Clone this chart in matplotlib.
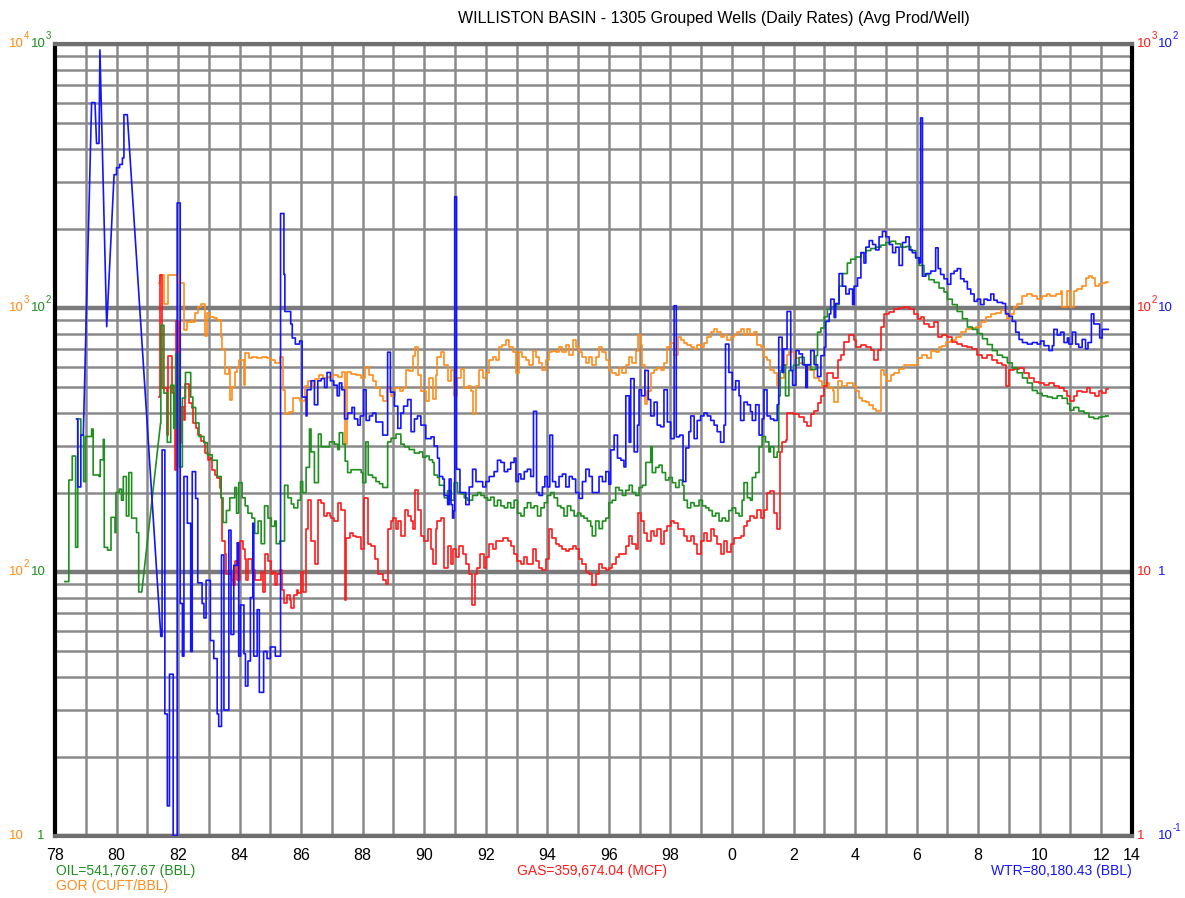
import numpy as np
import matplotlib
matplotlib.use("Agg")
import matplotlib.pyplot as plt
import matplotlib.transforms as mtransforms

plt.rcParams['font.family'] = ['Liberation Sans', 'DejaVu Sans']

TITLE = "WILLISTON BASIN - 1305 Grouped Wells (Daily Rates) (Avg Prod/Well)"

# (years since 1900, average daily rate per well) - monthly steps
OIL = [
    (78.32, 9.2), (78.45, 22.3), (78.56, 27.5), (78.67, 12.4), (78.74, 38), (78.84, 33), (78.93, 22), (78.99, 32.6),
    (79.19, 34.8), (79.24, 23.3), (79.43, 23), (79.47, 26.6), (79.57, 31.8), (79.60, 12.4), (79.71, 12.1),
    (79.82, 16.1), (79.95, 14.1), (79.98, 20), (80.09, 20.6), (80.16, 18.7), (80.22, 23), (80.32, 16.3),
    (80.40, 23.8), (80.49, 16), (80.65, 14.1), (80.72, 8.4), (80.82, 8.4),
    (81.43, 36.7), (81.44, 86), (81.54, 47.6), (81.65, 31), (81.76, 51), (81.86, 35), (81.92, 67),
    (82.03, 25), (82.14, 45.6), (82.24, 57), (82.41, 46), (82.48, 42), (82.57, 36.7), (82.68, 32.6),
    (82.84, 30.9), (82.95, 27.8), (83.11, 26.5), (83.27, 23), (83.40, 19.1), (83.46, 15.4), (83.57, 17.1),
    (83.68, 19.1), (83.84, 20.9), (83.90, 16.7), (83.97, 21.8), (84.08, 19.1), (84.18, 17.8), (84.27, 16.7),
    (84.40, 16.0), (84.49, 14.0), (84.60, 15.6), (84.70, 12.8), (84.81, 17.8), (84.92, 16.0), (85.03, 14.9),
    (85.14, 15.6), (85.19, 12.8), (85.30, 13.1), (85.46, 21.3), (85.57, 19.1), (85.68, 18.1), (85.76, 17.5),
    (85.89, 18.7), (85.98, 22), (86.05, 20), (86.16, 24.9), (86.27, 34.8), (86.32, 28.5), (86.43, 21.8),
    (86.56, 33.3), (86.65, 29.8), (86.92, 31.1), (87.08, 30.5), (87.19, 29.1), (87.24, 33.7), (87.35, 30.5),
    (87.43, 26.3), (87.51, 23.8), (87.62, 24.4), (87.95, 23.8), (88.00, 21.8), (88.10, 31.1), (88.18, 23.3),
    (88.32, 22.8), (88.43, 22), (88.54, 21.6), (88.65, 20.9), (88.81, 31.1), (88.92, 32.1), (89.08, 33.3),
    (89.24, 30.5), (89.35, 29.8), (89.51, 29.1), (89.68, 28.2), (89.84, 28.5), (89.95, 27.2),
    (90.05, 27.5), (90.16, 26.6), (90.27, 26), (90.32, 23.3), (90.43, 22.8), (90.49, 21.3), (90.65, 19.1),
    (90.76, 20.3), (90.87, 18.7), (90.97, 21.8), (91.08, 20), (91.19, 19.8), (91.30, 19.1), (91.41, 18.7),
    (91.57, 19.5), (91.73, 20), (91.84, 19.5), (91.95, 19.1), (92.06, 18.7), (92.16, 19.2), (92.27, 17.8),
    (92.38, 18.7), (92.49, 17.8), (92.60, 17.5), (92.71, 18.3), (92.81, 17.5), (92.92, 18.7), (93.03, 16.7),
    (93.14, 16.3), (93.25, 17.5), (93.35, 18.3), (93.46, 17.5), (93.57, 17.8), (93.68, 16.3), (93.79, 17.5),
    (93.90, 18.3), (94.00, 19.5), (94.11, 20), (94.22, 19.1), (94.33, 17.8), (94.44, 17.5), (94.54, 16.3),
    (94.65, 17.8), (94.76, 17.1), (94.87, 16.3), (94.98, 16.7), (95.09, 16.3), (95.19, 16.0), (95.30, 15.6),
    (95.41, 14.9), (95.46, 13.7), (95.57, 15.6), (95.68, 14.6), (95.79, 15.6), (95.90, 16), (96.00, 18.3),
    (96.11, 18.7), (96.22, 20.9), (96.33, 20.4), (96.44, 19.5), (96.55, 20.4), (96.66, 21.3), (96.76, 20),
    (96.87, 19.5), (96.98, 20.9), (97.09, 21.3), (97.20, 26), (97.36, 29.8), (97.41, 23.8), (97.52, 24.9),
    (97.63, 25.4), (97.73, 23.8), (97.84, 22.3), (97.95, 22.8), (98.06, 21.8), (98.17, 20.9), (98.28, 22.3),
    (98.39, 21.3), (98.44, 18.7), (98.55, 17.5), (98.66, 18.3), (98.77, 17.8), (98.93, 18.7), (99.04, 17.8),
    (99.15, 17.5), (99.25, 17.1), (99.36, 16.3), (99.47, 16.7), (99.58, 15.6), (99.68, 16.0), (99.79, 15.6),
    (99.90, 17.1), (100.01, 17.5), (100.12, 16.7), (100.23, 16.3), (100.33, 18.7), (100.39, 21.8),
    (100.50, 19.1), (100.60, 18.7), (100.66, 22.8), (100.77, 23.8), (100.88, 29.8), (100.98, 32.6),
    (101.09, 31.1), (101.20, 28.5), (101.25, 29.8), (101.36, 27.2), (101.47, 28.5), (101.52, 46.5),
    (101.57, 58), (101.63, 60.8), (101.74, 46.5), (101.85, 58), (102.00, 60.8), (102.18, 65), (102.35, 60.8),
    (102.56, 58.5), (102.73, 66), (102.78, 81), (102.89, 84), (103.00, 92.6), (103.10, 99), (103.21, 101),
    (103.37, 103), (103.48, 121), (103.59, 135), (103.75, 148), (103.86, 153), (104.02, 156), (104.19, 162),
    (104.35, 165), (104.51, 168), (104.67, 170), (104.84, 173), (105.00, 177), (105.16, 179), (105.32, 175),
    (105.48, 170), (105.65, 171), (105.81, 165), (105.97, 155), (106.08, 145), (106.24, 134), (106.40, 128),
    (106.57, 125), (106.73, 119), (106.89, 115), (107.00, 108), (107.16, 103), (107.32, 97), (107.49, 91),
    (107.65, 84.7), (107.81, 83), (107.97, 80), (108.14, 76.5), (108.30, 72.7), (108.46, 69), (108.62, 66.3),
    (108.79, 65), (108.95, 62), (109.11, 59.3), (109.27, 56.8), (109.44, 54.3), (109.60, 52), (109.76, 48.7),
    (109.92, 47.5), (110.08, 46.5), (110.25, 46), (110.41, 45.5), (110.57, 46.5), (110.73, 45.5),
    (110.90, 43.4), (110.98, 41), (111.11, 42), (111.27, 40.7), (111.44, 40), (111.60, 38.6), (111.76, 38.1),
    (111.92, 38.6), (112.03, 38.8), (112.14, 39),
]
OIL_LINKS = [80.82]

GAS = [
    (81.38, 46), (81.41, 133), (81.49, 49.8), (81.65, 33), (81.68, 66), (81.81, 47.6), (81.90, 24.3),
    (81.92, 89), (82.03, 30.8), (82.11, 42), (82.19, 37.6), (82.24, 51.5), (82.35, 43.6), (82.44, 41.8),
    (82.49, 36.7), (82.57, 35), (82.65, 33), (82.76, 31.4), (82.84, 31), (82.89, 28.3), (82.98, 26.5),
    (83.05, 27), (83.11, 24.3), (83.19, 23.3), (83.27, 22.7), (83.35, 20.8), (83.41, 19.1), (83.44, 13.1),
    (83.52, 11.7), (83.57, 9.8), (83.74, 9.3), (83.79, 8.95), (83.84, 11), (83.93, 9.3), (84.01, 13.1),
    (84.11, 12.2), (84.17, 11.2), (84.22, 9.3), (84.26, 11.2), (84.39, 10.2), (84.49, 9.3), (84.69, 10),
    (84.76, 8.4), (84.84, 11.7), (84.93, 11), (85.01, 9.8), (85.09, 10), (85.16, 8.95), (85.23, 9.8),
    (85.31, 10.2), (85.39, 8.55), (85.45, 7.65), (85.55, 8.2), (85.63, 7.8), (85.68, 7.3), (85.77, 8.2),
    (85.85, 8.55), (85.90, 8.3), (85.99, 10), (86.06, 8.4), (86.17, 14.6), (86.23, 18.7), (86.33, 13.1),
    (86.44, 10.7), (86.55, 18.7), (86.66, 18.3), (86.74, 16.3), (86.85, 16.7), (86.93, 16.3), (86.98, 16),
    (87.07, 15.6), (87.20, 18.3), (87.29, 17.1), (87.42, 7.8), (87.47, 13.4), (87.58, 14), (87.69, 13.7),
    (87.79, 13.6), (87.96, 12.2), (88.04, 19.1), (88.17, 12.8), (88.28, 12.5), (88.39, 11.2), (88.50, 9.8),
    (88.66, 9.3), (88.77, 9.0), (88.82, 14.6), (88.93, 15.6), (88.98, 16), (89.09, 14.6), (89.15, 15.6),
    (89.26, 13.7), (89.36, 17.1), (89.47, 16.3), (89.56, 15.6), (89.63, 14.6), (89.69, 20.4), (89.80, 17.1),
    (89.90, 13.7), (90.00, 13.1), (90.11, 14.6), (90.22, 12.2), (90.27, 10.7), (90.38, 14.6), (90.43, 15.6),
    (90.54, 16), (90.65, 10.4), (90.76, 12.5), (90.87, 10.7), (90.92, 12.2), (91.03, 11.4), (91.14, 12.5),
    (91.25, 11.7), (91.35, 10.7), (91.46, 9.8), (91.55, 7.5), (91.66, 9.8), (91.73, 10.4), (91.82, 11.7),
    (91.93, 10.4), (92.00, 11.4), (92.11, 12.8), (92.22, 12.2), (92.33, 13.1), (92.55, 13.4), (92.71, 13.1),
    (92.81, 12.5), (92.92, 11.7), (93.03, 11), (93.14, 10.7), (93.25, 11.4), (93.35, 10.7), (93.52, 12.2),
    (93.63, 11), (93.73, 10.4), (93.84, 10.2), (93.95, 11.2), (94.05, 14.6), (94.16, 13.4), (94.27, 12.8),
    (94.38, 12.5), (94.49, 12.2), (94.60, 12), (94.71, 12.2), (94.82, 12.5), (94.92, 12.2), (95.03, 11.2),
    (95.14, 10.7), (95.25, 10), (95.36, 9.8), (95.46, 8.95), (95.57, 9.8), (95.68, 10.7), (95.79, 10.4),
    (95.90, 10.2), (96.00, 10.4), (96.11, 10.7), (96.22, 11.4), (96.33, 11.7), (96.55, 12.5), (96.66, 13.7),
    (96.76, 12.8), (96.87, 12.2), (96.95, 16.7), (97.03, 15.6), (97.14, 14), (97.25, 13.1), (97.36, 14.3),
    (97.47, 13.7), (97.57, 14.6), (97.68, 12.8), (97.79, 14.3), (97.90, 14.9), (98.01, 15.6), (98.12, 15.3),
    (98.23, 14.6), (98.44, 13.7), (98.55, 13.1), (98.66, 13.7), (98.77, 12.8), (98.87, 11.7), (98.98, 13.1),
    (99.09, 14), (99.20, 13.1), (99.31, 14.6), (99.42, 13.7), (99.52, 12.8), (99.63, 11.7), (99.74, 13.1),
    (99.85, 11.9), (99.96, 12.8), (100.06, 13.4), (100.17, 13.5), (100.28, 13.7), (100.39, 14.9),
    (100.50, 15.6), (100.60, 16.3), (100.71, 16), (100.82, 17.1), (100.93, 16), (101.04, 17.1),
    (101.14, 19.9), (101.25, 20.2), (101.36, 16.7), (101.47, 14.6), (101.55, 28.4), (101.63, 31),
    (101.74, 31.5), (101.80, 40), (101.97, 39.5), (102.18, 38.5), (102.35, 36.9), (102.45, 35.6),
    (102.56, 39.5), (102.67, 40.7), (102.78, 43.5), (102.89, 46.5), (103.00, 50.8), (103.10, 56.8),
    (103.27, 54.3), (103.43, 63.5), (103.54, 66.4), (103.65, 74.2), (103.81, 79.3), (103.97, 75.9),
    (104.02, 71), (104.19, 72.7), (104.35, 71), (104.51, 69.5), (104.62, 63.5), (104.73, 69.5),
    (104.84, 84.8), (104.94, 94.8), (105.11, 96.9), (105.27, 99), (105.43, 100), (105.59, 101),
    (105.76, 99), (105.92, 94.8), (106.03, 90.6), (106.13, 92.6), (106.24, 86.7), (106.40, 84.8),
    (106.57, 88.6), (106.68, 77.6), (106.84, 79.3), (107.00, 77.6), (107.16, 74.2), (107.32, 73.3),
    (107.49, 71.9), (107.65, 71), (107.81, 70), (107.97, 66.4), (108.14, 64.9), (108.30, 66.4),
    (108.46, 63.5), (108.62, 62.1), (108.79, 60.7), (108.90, 50.8), (109.00, 58.1), (109.16, 58.5),
    (109.33, 59.4), (109.49, 56.8), (109.65, 54.3), (109.81, 52.6), (109.98, 51.9), (110.14, 51.2),
    (110.30, 51.9), (110.46, 50.8), (110.63, 49.7), (110.79, 48.6), (110.90, 46.5), (111.00, 44.5),
    (111.11, 46.5), (111.22, 48.6), (111.38, 48.2), (111.54, 49.7), (111.65, 47.6), (111.81, 46.5),
    (111.92, 48.6), (112.03, 47.6), (112.14, 49.2),
]
GAS_LINKS = []

GOR = [
    (81.38, 1240), (81.41, 1330), (81.54, 1040), (81.68, 1330), (82.03, 1240), (82.19, 826), (82.30, 886),
    (82.41, 900), (82.46, 886), (82.54, 957), (82.65, 1010), (82.76, 1040), (82.87, 780), (82.95, 960),
    (83.05, 925), (83.16, 916), (83.27, 900), (83.38, 776), (83.43, 697), (83.54, 560), (83.65, 600),
    (83.70, 449), (83.76, 500), (83.86, 570), (83.92, 600), (83.97, 635), (84.14, 510), (84.19, 675),
    (84.30, 645), (84.41, 650), (84.57, 648), (84.73, 655), (84.89, 645), (85.00, 635), (85.16, 620),
    (85.30, 650), (85.42, 490), (85.48, 398), (85.62, 403), (85.75, 455), (85.95, 444), (86.12, 508),
    (86.23, 528), (86.36, 500), (86.46, 537), (86.57, 556), (86.71, 545), (86.87, 550), (87.03, 556),
    (87.20, 550), (87.33, 570), (87.42, 305), (87.48, 570), (87.63, 563), (87.79, 556), (87.94, 545),
    (88.06, 600), (88.19, 556), (88.34, 530), (88.44, 497), (88.55, 465), (88.66, 444), (88.80, 497),
    (88.93, 465), (89.06, 497), (89.20, 486), (89.31, 497), (89.42, 580), (89.52, 575), (89.63, 660),
    (89.71, 710), (89.80, 556), (89.90, 486), (90.05, 444), (90.16, 545), (90.27, 454), (90.38, 556),
    (90.43, 650), (90.54, 680), (90.65, 610), (90.76, 530), (90.87, 580), (90.97, 465), (91.08, 545),
    (91.19, 585), (91.30, 498), (91.41, 508), (91.52, 486), (91.57, 398), (91.68, 508), (91.79, 580),
    (91.90, 545), (92.00, 568), (92.11, 634), (92.22, 650), (92.33, 634), (92.44, 710), (92.54, 727),
    (92.65, 755), (92.76, 710), (92.87, 680), (92.98, 568), (93.08, 680), (93.19, 650), (93.30, 634),
    (93.41, 610), (93.52, 690), (93.63, 650), (93.73, 620), (93.84, 580), (93.95, 634), (94.05, 680),
    (94.16, 690), (94.27, 680), (94.38, 710), (94.49, 680), (94.60, 727), (94.71, 665), (94.82, 755),
    (94.92, 710), (95.03, 680), (95.14, 650), (95.25, 620), (95.36, 650), (95.46, 610), (95.57, 650),
    (95.68, 710), (95.79, 680), (95.90, 634), (96.00, 580), (96.11, 568), (96.22, 556), (96.33, 595),
    (96.44, 568), (96.55, 610), (96.66, 650), (96.76, 620), (96.87, 690), (96.93, 790), (97.03, 727),
    (97.09, 610), (97.17, 434), (97.25, 486), (97.36, 568), (97.47, 580), (97.57, 595), (97.68, 580),
    (97.79, 620), (97.90, 710), (98.01, 740), (98.12, 665), (98.23, 775), (98.33, 755), (98.44, 740),
    (98.55, 727), (98.66, 710), (98.77, 697), (98.87, 727), (98.98, 710), (99.09, 740), (99.20, 775),
    (99.31, 810), (99.42, 830), (99.52, 810), (99.63, 775), (99.74, 790), (99.85, 755), (99.96, 775),
    (100.06, 790), (100.17, 810), (100.28, 830), (100.39, 790), (100.50, 830), (100.60, 790), (100.71, 810),
    (100.82, 727), (100.93, 710), (101.04, 650), (101.14, 634), (101.25, 580), (101.36, 568), (101.47, 508),
    (101.57, 545), (101.68, 610), (101.79, 664), (101.86, 679), (102.02, 649), (102.18, 621), (102.35, 607),
    (102.51, 581), (102.67, 543), (102.83, 531), (102.94, 508), (103.05, 519), (103.16, 497), (103.27, 486),
    (103.32, 441), (103.43, 531), (103.59, 508), (103.75, 519), (103.92, 508), (104.02, 486), (104.13, 455),
    (104.24, 445), (104.35, 441), (104.46, 429), (104.57, 416), (104.67, 407), (104.84, 581), (104.94, 556),
    (105.05, 531), (105.16, 556), (105.27, 568), (105.43, 586), (105.59, 607), (106.03, 649), (106.19, 664),
    (106.35, 649), (106.46, 688), (106.62, 679), (106.73, 710), (106.84, 720), (106.95, 742), (107.11, 759),
    (107.27, 776), (107.43, 812), (107.60, 831), (107.76, 838), (107.92, 848), (108.08, 887), (108.25, 927),
    (108.41, 948), (108.57, 957), (108.73, 983), (108.89, 969), (108.93, 906), (109.00, 948), (109.16, 1010),
    (109.27, 1035), (109.44, 1109), (109.60, 1130), (109.76, 1109), (109.92, 1086), (110.08, 1109),
    (110.25, 1130), (110.35, 1109), (110.52, 1130), (110.68, 1157), (110.73, 1010), (110.90, 1157),
    (111.00, 1010), (111.11, 1157), (111.22, 1180), (111.38, 1210), (111.49, 1298), (111.60, 1327),
    (111.71, 1298), (111.81, 1210), (111.92, 1236), (112.03, 1247), (112.14, 1260),
]
GOR_LINKS = []

WTR = [
    (78.70, 3.8), (78.74, 2.1), (78.84, 3.3), (78.92, 3.3), (79.19, 60), (79.30, 60), (79.35, 42),
    (79.43, 42), (79.46, 95), (79.68, 8.5), (79.92, 32), (80.00, 34), (80.10, 35), (80.19, 37),
    (80.24, 54), (80.35, 54), (81.44, 0.57), (81.48, 2.9), (81.57, 0.29), (81.65, 0.13), (81.72, 0.41),
    (81.84, 0.10), (81.97, 25), (82.07, 0.76), (82.14, 0.48), (82.19, 2.3), (82.30, 1.53), (82.41, 0.50),
    (82.46, 2.4), (82.57, 1.9), (82.64, 0.91), (82.78, 0.76), (82.84, 0.67), (82.91, 0.93), (83.05, 0.55),
    (83.16, 0.47), (83.27, 0.29), (83.32, 0.26), (83.41, 1.16), (83.49, 0.30), (83.65, 1.44), (83.72, 0.58),
    (83.81, 1.06), (83.92, 1.29), (83.97, 0.48), (84.03, 0.75), (84.14, 0.49), (84.19, 0.37), (84.27, 0.46),
    (84.35, 0.80), (84.43, 1.53), (84.46, 0.48), (84.57, 0.72), (84.64, 0.35), (84.78, 0.50), (84.89, 0.47),
    (85.00, 0.52), (85.16, 0.48), (85.33, 22.8), (85.44, 13.4), (85.47, 9.7), (85.66, 8.7), (85.71, 7.7),
    (85.81, 7.3), (85.95, 7.5), (86.03, 4.6), (86.16, 3.9), (86.19, 4.9), (86.32, 5.3), (86.43, 4.3),
    (86.54, 5.3), (86.65, 5.4), (86.76, 5.0), (86.84, 5.7), (86.95, 5.3), (87.06, 5.1), (87.17, 4.65),
    (87.24, 5.2), (87.32, 4.9), (87.41, 3.8), (87.51, 4.0), (87.65, 4.2), (87.73, 3.8), (87.84, 3.6),
    (87.92, 3.9), (88.03, 4.9), (88.11, 3.75), (88.22, 3.9), (88.32, 4.0), (88.43, 3.7), (88.65, 3.3),
    (88.81, 6.8), (88.90, 4.8), (89.03, 4.25), (89.14, 3.5), (89.24, 4.0), (89.33, 4.25), (89.46, 4.5),
    (89.57, 3.4), (89.68, 3.8), (89.78, 3.9), (89.89, 3.6), (90.05, 3.2), (90.22, 3.25), (90.32, 3.0),
    (90.43, 2.7), (90.49, 2.3), (90.60, 2.25), (90.65, 1.95), (90.76, 1.8), (90.81, 2.25), (90.87, 1.8),
    (90.92, 1.6), (90.96, 1.7), (90.99, 26.4), (91.05, 2.45), (91.16, 2.0), (91.35, 1.8), (91.46, 2.1),
    (91.57, 2.45), (91.68, 2.2), (91.90, 2.1), (92.00, 2.2), (92.11, 2.3), (92.27, 2.4), (92.38, 2.65),
    (92.49, 2.6), (92.60, 2.4), (92.71, 2.45), (92.81, 2.6), (92.92, 2.7), (92.98, 2.2), (93.06, 2.35),
    (93.14, 2.25), (93.25, 2.4), (93.35, 2.45), (93.46, 2.3), (93.55, 4.06), (93.65, 2.0), (93.73, 1.95),
    (93.84, 2.1), (93.92, 2.3), (94.00, 2.1), (94.08, 3.3), (94.17, 2.2), (94.27, 2.1), (94.38, 2.3),
    (94.49, 2.35), (94.60, 2.1), (94.71, 2.3), (94.81, 2.25), (94.92, 2.0), (95.03, 1.9), (95.14, 2.2),
    (95.25, 2.45), (95.36, 2.3), (95.46, 2.0), (95.68, 2.3), (95.79, 2.2), (95.90, 2.4), (96.00, 2.15),
    (96.06, 2.9), (96.17, 3.3), (96.28, 2.7), (96.39, 2.65), (96.49, 2.5), (96.55, 4.65), (96.66, 3.1),
    (96.71, 5.4), (96.82, 2.85), (96.93, 3.6), (96.98, 4.9), (97.06, 4.65), (97.17, 5.8), (97.28, 4.5),
    (97.36, 3.9), (97.47, 4.4), (97.57, 3.6), (97.68, 3.55), (97.79, 4.9), (97.90, 3.7), (98.01, 3.2),
    (98.12, 10.2), (98.19, 3.25), (98.30, 3.3), (98.41, 2.2), (98.50, 2.95), (98.60, 3.4), (98.66, 3.9),
    (98.77, 3.2), (98.87, 3.75), (98.98, 3.9), (99.09, 4.0), (99.20, 3.9), (99.31, 3.75), (99.42, 3.6),
    (99.52, 3.4), (99.63, 3.1), (99.74, 3.6), (99.79, 7.3), (99.90, 5.7), (100.01, 4.9), (100.12, 5.3),
    (100.23, 4.65), (100.28, 3.75), (100.39, 4.4), (100.50, 4.3), (100.60, 4.05), (100.66, 3.75),
    (100.77, 4.3), (100.88, 3.3), (100.98, 3.8), (101.04, 4.9), (101.14, 3.9), (101.25, 3.8), (101.36, 3.75),
    (101.47, 4.3), (101.52, 7.75), (101.63, 5.7), (101.68, 7.0), (101.79, 9.7), (101.91, 5.8), (101.97, 5.1),
    (102.08, 6.9), (102.18, 6.7), (102.29, 6.1), (102.40, 5.0), (102.45, 6.1), (102.56, 6.9), (102.67, 6.1),
    (102.78, 5.5), (102.89, 6.6), (103.00, 7.1), (103.05, 8.9), (103.16, 9.5), (103.21, 10.8), (103.32, 9.2),
    (103.37, 10.4), (103.48, 13.5), (103.59, 12.1), (103.70, 11.3), (103.81, 11.8), (103.92, 10.3),
    (103.97, 12.1), (104.08, 13.0), (104.19, 16.2), (104.29, 14.8), (104.35, 17), (104.46, 18), (104.57, 17.4),
    (104.67, 16.6), (104.78, 18.6), (104.89, 19.5), (105.00, 18.6), (105.11, 17.4), (105.22, 16.2),
    (105.32, 17), (105.43, 14.5), (105.54, 17.7), (105.65, 18.6), (105.76, 16.6), (105.86, 16.2),
    (105.97, 15.5), (106.08, 14.8), (106.13, 52.5), (106.19, 13.2), (106.30, 13.5), (106.46, 13.8),
    (106.62, 16.9), (106.70, 14.1), (106.78, 13.4), (106.89, 12.9), (107.00, 12.3), (107.11, 13.5),
    (107.22, 13.8), (107.32, 14.1), (107.43, 12.9), (107.54, 12.6), (107.65, 11.8), (107.76, 11.3),
    (107.87, 10.6), (107.97, 10.8), (108.08, 10.3), (108.19, 10.8), (108.30, 10.7), (108.41, 11.3),
    (108.51, 10.7), (108.62, 10.5), (108.79, 10.4), (108.89, 9.5), (109.00, 9.3), (109.11, 8.9), (109.22, 8.1),
    (109.33, 7.6), (109.44, 7.4), (109.60, 7.3), (109.76, 7.4), (109.92, 7.3), (110.03, 7.5), (110.14, 7.2),
    (110.30, 6.9), (110.41, 7.2), (110.46, 8.3), (110.57, 7.9), (110.68, 8.1), (110.79, 7.4), (110.90, 7.7),
    (110.95, 7.3), (111.06, 8.1), (111.17, 7.3), (111.27, 7.1), (111.38, 7.6), (111.49, 7.0), (111.57, 7.4),
    (111.68, 9.5), (111.76, 8.7), (111.87, 8.7), (111.95, 7.7), (112.03, 8.3), (112.14, 8.3),
]
# months with no data are bridged by a straight line instead of a step
WTR_LINKS = [78.92, 79.30, 79.43, 79.46, 79.68, 80.35]

OIL_TOTAL = "OIL=541,767.67 (BBL)"
GAS_TOTAL = "GAS=359,674.04 (MCF)"
WTR_TOTAL = "WTR=80,180.43 (BBL)"
GOR_NOTE = "GOR (CUFT/BBL)"

C_OIL, C_GAS, C_WTR, C_GOR = '#1f8f1f', '#ff1a1a', '#1414ff', '#ff8c1a'
GRID = '#8a8a8a'
LBL_SIZE = 9.5
EXP_SIZE = 7


def step_xy(pairs, links):
    t = [p[0] for p in pairs]
    v = [p[1] for p in pairs]
    xs, ys = [t[0]], [v[0]]
    for i in range(len(t) - 1):
        if t[i] in links:
            xs.append(t[i + 1]); ys.append(v[i + 1])
        else:
            xs += [t[i + 1], t[i + 1]]; ys += [v[i], v[i + 1]]
    xs.append(t[-1] + 1 / 12); ys.append(v[-1])
    return 1900 + np.array(xs), np.array(ys)


def decade_label(tw, xpos, p, color):
    # "10" with a small raised exponent, like the original plot software draws it
    tr = mtransforms.blended_transform_factory(fig.transFigure, tw.transData)
    y = 10.0 ** p
    if p == 0:
        tw.text(xpos, y, '1', transform=tr, color=color, ha='left', va='center',
                fontsize=LBL_SIZE, clip_on=False)
        return
    tw.text(xpos, y, '10', transform=tr, color=color, ha='left', va='center',
            fontsize=LBL_SIZE, clip_on=False)
    if p != 1:
        etr = mtransforms.offset_copy(tr, fig=fig, x=1.112 * LBL_SIZE, y=5.5, units='points')
        tw.text(xpos, y, str(p), transform=etr, color=color, ha='left', va='center',
                fontsize=EXP_SIZE, clip_on=False)


fig = plt.figure(figsize=(11.85, 8.98), dpi=100)
ax = fig.add_axes([55 / 1185, 1 - 836 / 898, (1132 - 55) / 1185, (836 - 44) / 898])

ax.set_xlim(1978, 2013)
ax.set_yscale('log')
ax.set_ylim(1, 1000)
years = np.arange(1978, 2014)
ax.set_xticks(years)
xlabels = [str(y % 100) if y % 2 == 0 else '' for y in years]
xlabels[-1] = '14'
ax.set_xticklabels(xlabels)
ax.tick_params(axis='x', length=0, pad=9, labelsize=11.5)
ax.tick_params(axis='y', which='both', length=0, labelleft=False)
ax.grid(True, axis='x', color=GRID, lw=1.8)
ax.grid(True, axis='y', which='major', color='#7a7a7a', lw=3.2)
ax.grid(True, axis='y', which='minor', color=GRID, lw=1.8)
ax.set_axisbelow(True)
for side in ('left', 'right'):
    ax.spines[side].set_color('black')
    ax.spines[side].set_linewidth(3)
for side in ('top', 'bottom'):
    ax.spines[side].set_color('#6e6e6e')
    ax.spines[side].set_linewidth(3)

series = [
    (GOR, GOR_LINKS, C_GOR, (10, 1e4)),
    (GAS, GAS_LINKS, C_GAS, (1, 1000)),
    (OIL, OIL_LINKS, C_OIL, (1, 1000)),
    (WTR, WTR_LINKS, C_WTR, (0.1, 100)),
]
twins = []
for pairs, links, color, lim in series:
    tw = ax.twinx()
    tw.set_yscale('log')
    tw.set_ylim(*lim)
    tw.tick_params(axis='y', which='both', length=0, labelright=False)
    for s in tw.spines.values():
        s.set_visible(False)
    x, y = step_xy(pairs, links)
    tw.plot(x, y, color=color, lw=1.2)
    twins.append(tw)
tw_gor, tw_gas, tw_oil, tw_wtr = twins

# scale labels at each decade line
for tw, color, xpos, lo in [
    (tw_gor, C_GOR, 9 / 1185, 1),
    (tw_oil, C_OIL, 31 / 1185, 0),
    (tw_gas, C_GAS, 1137 / 1185, 0),
    (tw_wtr, C_WTR, 1158 / 1185, -1),
]:
    for p in range(lo, lo + 4):
        xp = 37 / 1185 if (tw is tw_oil and p == 0) else xpos
        decade_label(tw, xp, p, color)

fig.text(714 / 1185, 1 - 18 / 898, TITLE, ha='center', va='center', fontsize=11.5)
fig.text(56 / 1185, 1 - 871 / 898, OIL_TOTAL, color=C_OIL, ha='left', va='center', fontsize=10)
fig.text(56 / 1185, 1 - 886 / 898, GOR_NOTE, color=C_GOR, ha='left', va='center', fontsize=10)
fig.text(592 / 1185, 1 - 871 / 898, GAS_TOTAL, color=C_GAS, ha='center', va='center', fontsize=10)
fig.text(1132 / 1185, 1 - 871 / 898, WTR_TOTAL, color=C_WTR, ha='right', va='center', fontsize=10)

fig.savefig('out.png', dpi=100)
